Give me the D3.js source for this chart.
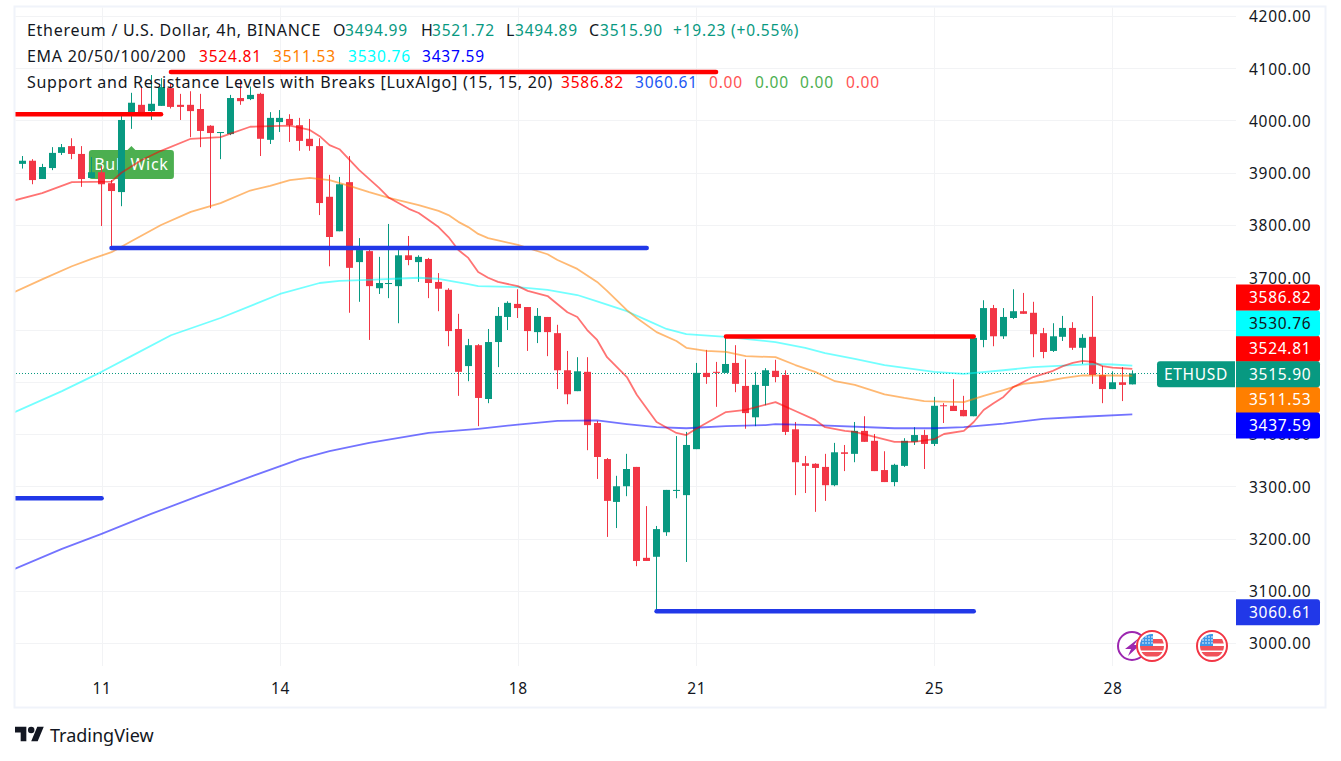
<!DOCTYPE html>
<html>
<head>
<meta charset="utf-8">
<title>ETHUSD 4h</title>
<script src="https://cdn.jsdelivr.net/npm/d3@7/dist/d3.min.js"></script>
<style>
html, body { margin: 0; padding: 0; background: #fff; }
svg { display: block; }
text { font-family: "Noto Sans", sans-serif; letter-spacing: 0.72px; }
.grid { stroke: #f2f3f5; stroke-width: 1; }
.axis path, .axis line { display: none; }
.axis text { font-size: 15.5px; fill: #131722; }
</style>
</head>
<body>
<div id="chart"></div>
<script>
// 4h candles (first bar is bar 0)
var opens = [3917,3923,3888,3909,3938,3951,3936,3890,3901,3880,3863,4011,4030,4018,4028,4062,4030,4030,4022,3990,3976,3974,4043,4041,4051,3963,3997,4003,3991,3965,
    3951,3854,3788,3882,3729,3750,3679,3687,3683,3742,3729,3735,3691,3676,3601,3530,3570,3467,3576,3624,3649,3643,3595,3624,3593,3522,3482,3519,
    3421,3352,3270,3300,3337,3163,3165,3212,3291,3283,3371,3517,3519,3517,3536,3492,3432,3492,3521,3513,3409,3344,3343,3337,3302,3365,3362,
    3406,3387,3331,3308,3339,3385,3398,3381,3455,3454,3446,3434,3580,3641,3587,3622,3635,3632,3593,3559,3586,3603,3565,3586,3513,3486,3499,3494.99];
var highs = [3932,3926,3917,3949,3955,3966,3951,3930,3913,3886,4009,4053,4065,4087,4081,4070,4051,4056,4051,3991,3978,4049,4078,4065,4053,4016,4020,4012,4005,4003,
    3966,3896,3892,3932,3775,3758,3739,3802,3752,3779,3742,3737,3708,3679,3630,3582,3572,3601,3643,3654,3677,3643,3641,3624,3609,3559,3547,3547,
    3425,3354,3320,3362,3337,3262,3224,3293,3396,3404,3536,3561,3538,3586,3570,3543,3519,3526,3542,3522,3423,3358,3344,3362,3383,3379,3423,
    3434,3400,3367,3343,3392,3413,3408,3471,3459,3505,3473,3584,3656,3647,3641,3677,3670,3653,3603,3612,3626,3614,3591,3664,3530,3520,3528,3521.72];
var lows = [3908,3878,3888,3905,3934,3926,3873,3890,3798,3755,3836,3984,4011,4001,4028,4023,4001,3968,3949,3832,3926,3972,4030,4039,3932,3955,3978,3959,3942,3942,
    3819,3721,3788,3632,3653,3580,3668,3660,3612,3723,3691,3660,3635,3568,3473,3501,3415,3459,3528,3599,3622,3559,3574,3549,3486,3457,3482,3369,
    3314,3203,3220,3281,3147,3157,3059,3205,3277,3155,3371,3496,3452,3517,3480,3410,3415,3455,3499,3398,3283,3287,3251,3272,3300,3329,3346,
    3385,3329,3308,3300,3337,3379,3333,3377,3421,3444,3434,3434,3566,3568,3582,3620,3630,3547,3545,3557,3578,3561,3534,3496,3459,3486,3463,3494.89];
var closes = [3923,3886,3911,3938,3949,3936,3888,3901,3878,3865,4001,4034,4014,4032,4064,4026,4026,4018,3980,3976,3978,4043,4037,4049,3965,4005,4005,3991,3961,3951,
    3842,3777,3878,3718,3752,3683,3689,3689,3742,3733,3739,3689,3678,3597,3519,3570,3469,3576,3626,3651,3641,3597,3626,3595,3522,3476,3520,3417,
    3356,3272,3300,3333,3157,3157,3218,3293,3293,3379,3517,3509,3517,3534,3496,3440,3494,3522,3509,3404,3346,3339,3335,3302,3365,3362,3406,
    3385,3329,3308,3341,3387,3398,3381,3454,3454,3444,3434,3584,3641,3587,3624,3635,3630,3591,3557,3587,3603,3565,3584,3513,3486,3499,3494,3515.90];

// EMA readings, bar numbers they were read at and the value there
var ema20Bars = [-1,2,5,9,10,12,14,17,20,23,27,29,30,31,32,34,36,37,39,40,42,43,44,45,46,47,48,50,51,53,55,56,57,58,59,61,62,64,66,67,68,71,73,76,78,80,81,83,84,88,90,92,93,95,96,97,98,99,100,102,104,105,106,107,108,109,110,112];
var ema20 = [3846,3861,3882,3883,3900,3924,3942,3965,3968,3988,3990,3982,3970,3953,3945,3905,3871,3852,3831,3823,3796,3777,3752,3737,3710,3699,3691,3683,3674,3664,3633,3624,3599,3580,3547,3509,3475,3423,3402,3398,3410,3442,3446,3461,3444,3427,3413,3406,3404,3385,3385,3390,3400,3406,3423,3446,3459,3471,3490,3509,3521,3530,3536,3540,3538,3530,3527,3524.81];
var ema50Bars = [-1,2,5,7,9,11,14,17,20,23,25,27,29,31,33,35,37,40,42,43,44,45,46,47,50,53,54,56,58,59,61,62,64,66,67,69,71,73,76,78,80,82,84,87,89,91,95,97,99,101,103,105,107,110,112];
var ema50 = [3670,3696,3721,3735,3748,3769,3800,3825,3842,3866,3875,3886,3890,3886,3875,3863,3852,3838,3827,3819,3806,3796,3783,3775,3762,3744,3733,3716,3691,3674,3637,3622,3595,3578,3565,3559,3557,3549,3547,3532,3519,3501,3494,3476,3469,3463,3461,3473,3484,3496,3500,3507,3512,3512,3511.53];
var ema100Bars = [-1,4,8,11,15,20,26,30,32,35,40,42,45,46,50,53,56,58,61,63,65,67,71,76,79,81,84,87,92,95,99,102,105,108,110,112];
var ema100 = [3440,3482,3519,3549,3589,3622,3668,3689,3693,3695,3699,3697,3687,3683,3681,3676,3666,3654,3635,3618,3601,3591,3586,3576,3565,3555,3544,3532,3519,3515,3522,3528,3531,3534,3533,3530.76];
var ema200Bars = [-1,4,8,13,18,23,28,31,35,41,46,50,54,58,61,64,67,71,75,76,80,88,92,95,99,103,107,112];
var ema200 = [3140,3180,3209,3247,3283,3318,3352,3367,3383,3402,3410,3418,3425,3426,3419,3413,3411,3415,3417,3419,3417,3411,3411,3413,3420,3429,3433,3437.59];

// support / resistance segments: first bar, last bar, price
var resistance = [[-1,14,4012],[15,70,4093],[71,96,3586.82]];
var support = [[9,63,3756],[-1,8,3277],[64,96,3060.61]];

var priceTicks = [4200,4100,4000,3900,3800,3700,3600,3500,3400,3300,3200,3100,3000];
var dayBars = [8,26,50,68,92,110];
var dayLabels = ["11","14","18","21","25","28"];

// price tags on the scale, stacked around the close
var closeTag = {label: "3515.90", value: 3515.90, bg: "#089981", fg: "#fff"};
var tagsAbove = [
    {label: "3524.81", bg: "#ff0000", fg: "#fff"},
    {label: "3530.76", bg: "#00ffff", fg: "#131722"},
    {label: "3586.82", bg: "#ff0000", fg: "#fff"}
];
var tagsBelow = [
    {label: "3511.53", bg: "#ff7f00", fg: "#fff"},
    {label: "3437.59", bg: "#0000ff", fg: "#fff"}
];
var supportTag = {label: "3060.61", value: 3060.61, bg: "#2138e8", fg: "#fff"};

var legendRows = [
    [["Ethereum / U.S. Dollar, 4h, BINANCE", 27, "#131722"], ["O", 333, "#131722"], ["3494.99", 345, "#089981"], ["H", 421, "#131722"], ["3521.72", 432, "#089981"], ["L", 506, "#131722"], ["3494.89", 515, "#089981"], ["C", 589, "#131722"], ["3515.90", 600, "#089981"], ["+19.23 (+0.55%)", 673, "#089981"]],
    [["EMA 20/50/100/200", 27, "#131722"], ["3524.81", 199, "#ff0000"], ["3511.53", 273, "#ff7f00"], ["3530.76", 348, "#00ffff"], ["3437.59", 422, "#0000ff"]],
    [["Support and Resistance Levels with Breaks [LuxAlgo] (15, 15, 20)", 27, "#131722"], ["3586.82", 561, "#ff0000"], ["3060.61", 635, "#2157f3"], ["0.00", 709, "#ff5252"], ["0.00", 755, "#4caf50"], ["0.00", 800, "#4caf50"], ["0.00", 846, "#ff5252"]]
];

var width = 1341, height = 761;
var paneLeft = 15.5, paneRight = 1236, paneTop = 7.5, paneBottom = 666;

var svg = d3.select("#chart").append("svg")
    .attr("width", width)
    .attr("height", height);

var x = d3.scaleLinear().domain([0, 112]).range([22.3, 1132.3]);
var y = d3.scaleLinear().domain([3000, 4200]).range([643, 16]);

svg.append("clipPath").attr("id", "pane")
    .append("rect")
    .attr("x", paneLeft).attr("y", paneTop)
    .attr("width", paneRight - paneLeft).attr("height", paneBottom - paneTop);

// Frame around the widget
svg.append("rect")
    .attr("x", 14.5).attr("y", 6.5)
    .attr("width", 1311).attr("height", 701)
    .attr("fill", "none")
    .attr("stroke", "#f0f3fa")
    .attr("stroke-width", 2);

// Grid
svg.selectAll(".hgrid").data(priceTicks).enter().append("line")
    .attr("class", "grid")
    .attr("x1", paneLeft).attr("x2", paneRight)
    .attr("y1", function(d) { return Math.round(y(d)) + 0.5; })
    .attr("y2", function(d) { return Math.round(y(d)) + 0.5; });
svg.selectAll(".vgrid").data(dayBars).enter().append("line")
    .attr("class", "grid")
    .attr("x1", function(d) { return Math.round(x(d)) + 0.5; })
    .attr("x2", function(d) { return Math.round(x(d)) + 0.5; })
    .attr("y1", paneTop).attr("y2", paneBottom);

var pane = svg.append("g").attr("clip-path", "url(#pane)");

// Last price line
pane.append("line")
    .attr("x1", 16).attr("x2", paneRight)
    .attr("y1", Math.round(y(closeTag.value)) + 0.5)
    .attr("y2", Math.round(y(closeTag.value)) + 0.5)
    .attr("stroke", "#089981")
    .attr("stroke-dasharray", "1 2");

// Bull Wick label sits behind the candles, its pointer tip at labelPrice
var labelBar = 10, labelPrice = 3951;
var labelG = pane.append("g")
    .attr("transform", "translate(" + (x(labelBar) + 10) + "," + y(labelPrice) + ")");
labelG.append("path").attr("d", "M-5 5L0 0L5 5Z").attr("fill", "#4caf50");
labelG.append("rect")
    .attr("x", -42.5).attr("y", 4)
    .attr("width", 85).attr("height", 29).attr("rx", 3)
    .attr("fill", "#4caf50");
labelG.append("text")
    .attr("text-anchor", "middle").attr("y", 24)
    .attr("font-size", 16).attr("fill", "#fff")
    .text("Bull Wick");

// Candles
var bars = d3.range(opens.length);
function barColor(i) { return closes[i] >= opens[i] ? "#089981" : "#f23645"; }

pane.selectAll(".wick").data(bars).enter().append("line")
    .attr("class", "wick")
    .attr("x1", function(i) { return Math.floor(x(i)) + 0.5; })
    .attr("x2", function(i) { return Math.floor(x(i)) + 0.5; })
    .attr("y1", function(i) { return y(highs[i]); })
    .attr("y2", function(i) { return y(lows[i]); })
    .attr("stroke", barColor);

pane.selectAll(".body").data(bars).enter().append("rect")
    .attr("class", "body")
    .attr("x", function(i) { return Math.floor(x(i)) - 3; })
    .attr("width", 7)
    .attr("y", function(i) { return y(Math.max(opens[i], closes[i])); })
    .attr("height", function(i) { return Math.max(1, Math.abs(y(opens[i]) - y(closes[i]))); })
    .attr("fill", barColor);

// EMAs
var line = d3.line()
    .x(function(d) { return x(d[0]); })
    .y(function(d) { return y(d[1]); });

[[ema200Bars, ema200, "#0000ff"], [ema100Bars, ema100, "#00ffff"], [ema50Bars, ema50, "#ff7f00"], [ema20Bars, ema20, "#ff0000"]].forEach(function(s) {
    pane.append("path")
        .datum(d3.zip(s[0], s[1]))
        .attr("d", line)
        .attr("fill", "none")
        .attr("stroke", s[2])
        .attr("stroke-opacity", 0.55)
        .attr("stroke-width", 1.8)
        .attr("stroke-linejoin", "round");
});

// Support and resistance segments
function drawLevels(levels, color) {
    pane.selectAll(null).data(levels).enter().append("line")
        .attr("x1", function(d) { return x(d[0]); })
        .attr("x2", function(d) { return x(d[1]); })
        .attr("y1", function(d) { return y(d[2]); })
        .attr("y2", function(d) { return y(d[2]); })
        .attr("stroke", color)
        .attr("stroke-width", 4.5)
        .attr("stroke-linecap", "round");
}
drawLevels(resistance, "#ff0000");
drawLevels(support, "#2138e8");

// Axes
var priceAxis = d3.axisRight(y)
    .tickValues(priceTicks)
    .tickFormat(d3.format(".2f"))
    .tickSize(0)
    .tickPadding(13);
svg.append("g").attr("class", "axis")
    .attr("transform", "translate(" + paneRight + ",1)")
    .call(priceAxis);

var timeAxis = d3.axisBottom(x)
    .tickValues(dayBars)
    .tickFormat(function(d) { return dayLabels[dayBars.indexOf(d)]; })
    .tickSize(0)
    .tickPadding(12);
svg.append("g").attr("class", "axis")
    .attr("transform", "translate(0," + (paneBottom + 4.5) + ")")
    .call(timeAxis);

// Price tags
var tagStep = 25.6, tagHeight = 26;
var closeY = y(closeTag.value) + 0.9;
var tagList = [];
tagsAbove.forEach(function(t, k) { tagList.push({t: t, cy: closeY - tagStep * (k + 1)}); });
tagsBelow.forEach(function(t, k) { tagList.push({t: t, cy: closeY + tagStep * (k + 1)}); });
tagList.push({t: closeTag, cy: closeY});
tagList.push({t: supportTag, cy: y(supportTag.value) + 1});

tagList.forEach(function(d) {
    var g = svg.append("g").attr("transform", "translate(" + paneRight + "," + d.cy + ")");
    g.append("path")
        .attr("d", "M0 " + (-tagHeight / 2) + "H81a3 3 0 0 1 3 3V" + (tagHeight / 2 - 3) + "a3 3 0 0 1 -3 3H0Z")
        .attr("fill", d.t.bg);
    g.append("text")
        .attr("x", 13).attr("y", 5.5)
        .attr("font-size", 15.5)
        .attr("fill", d.t.fg)
        .text(d.t.label);
});

// Symbol name tag next to the close
var nameG = svg.append("g").attr("transform", "translate(1235," + closeY + ")");
nameG.append("path")
    .attr("d", "M0 " + (-tagHeight / 2) + "H-75a3 3 0 0 0 -3 3V" + (tagHeight / 2 - 3) + "a3 3 0 0 0 3 3H0Z")
    .attr("fill", "#089981");
nameG.append("text")
    .attr("x", -39).attr("y", 5.5)
    .attr("text-anchor", "middle")
    .attr("font-size", 15.5)
    .attr("fill", "#fff")
    .text("ETHUSD");

// Event icons under the last bars
function drawFlag(cx, cy, id) {
    var g = svg.append("g").attr("transform", "translate(" + cx + "," + cy + ")");
    g.append("circle").attr("r", 15).attr("fill", "#fff").attr("stroke", "#f23645").attr("stroke-width", 2);
    g.append("clipPath").attr("id", id).append("circle").attr("r", 12);
    var f = g.append("g").attr("clip-path", "url(#" + id + ")");
    f.append("rect").attr("x", -12).attr("y", -12).attr("width", 24).attr("height", 24).attr("fill", "#fff");
    [-7, 0, 6].forEach(function(sy) {
        f.append("rect").attr("x", -12).attr("y", sy).attr("width", 24).attr("height", 4.5).attr("fill", "#f0525a");
    });
    f.append("rect").attr("x", -12).attr("y", -12).attr("width", 13).attr("height", 12).attr("fill", "#3c96e8");
    d3.range(3).forEach(function(r) {
        d3.range(4).forEach(function(c) {
            f.append("circle").attr("cx", -9 + c * 3).attr("cy", -9 + r * 3).attr("r", 0.8).attr("fill", "#fff");
        });
    });
}
var bolt = svg.append("g").attr("transform", "translate(1132,646)");
bolt.append("circle").attr("r", 14).attr("fill", "#fff").attr("stroke", "#9c27b0").attr("stroke-width", 2);
bolt.append("path").attr("d", "M7 -8L-7 3H-1L-4 10L8 -1H2Z").attr("fill", "#9c27b0");
drawFlag(1152, 646, "flagA");
drawFlag(1212, 646, "flagB");

// Legend on top of everything, names run a bit wider than numbers
legendRows.forEach(function(row, r) {
    svg.selectAll(null).data(row).enter().append("text")
        .attr("x", function(d) { return d[1]; })
        .attr("y", 35.5 + r * 26)
        .attr("font-size", function(d) { return d[2] === "#131722" ? 16 : 15.5; })
        .style("letter-spacing", function(d) { return d[2] === "#131722" ? "0.72px" : "0.8px"; })
        .attr("fill", function(d) { return d[2]; })
        .text(function(d) { return d[0]; });
});

// Logo
var logo = svg.append("g").attr("transform", "translate(15,723.5) scale(0.81)").attr("fill", "#131722");
logo.append("path").attr("d", "M14 22H7V11H0V4h14v18zM28 22h-8l7.5-18h8L28 22z");
logo.append("circle").attr("cx", 20).attr("cy", 8).attr("r", 4);
svg.append("text")
    .attr("x", 50).attr("y", 741.5)
    .attr("font-size", 18)
    .style("letter-spacing", "0")
    .attr("fill", "#131722")
    .text("TradingView");
</script>
</body>
</html>
